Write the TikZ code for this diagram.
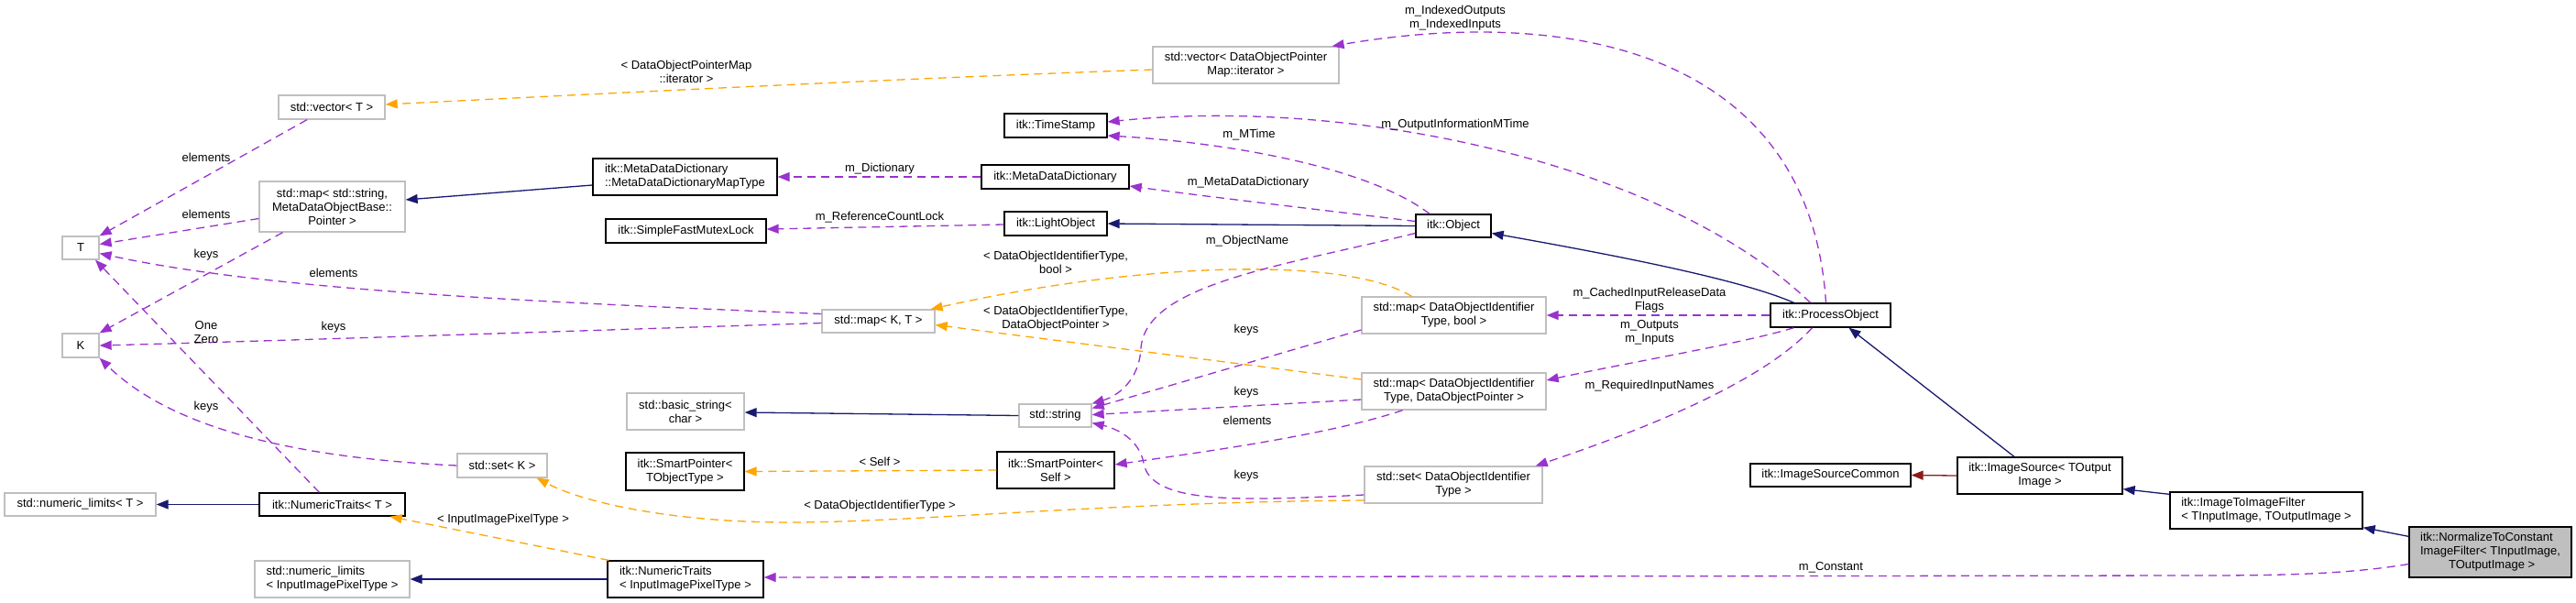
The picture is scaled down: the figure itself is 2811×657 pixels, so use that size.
\documentclass[tikz,border=0pt]{standalone}
\usepackage{fontspec}
\setmainfont{Liberation Sans}
\usetikzlibrary{arrows.meta}
\definecolor{navy}{HTML}{191970}
\definecolor{purp}{HTML}{9A32CD}
\definecolor{orng}{HTML}{FFA500}
\definecolor{fred}{HTML}{8B1A1A}
\definecolor{lgray}{HTML}{BFBFBF}
\newcommand\dgfont{\fontsize{13}{15}\selectfont}
\begin{document}
\begin{tikzpicture}[x=1pt,y=-1pt,
 clsbox/.style={draw=black,line width=1.3pt,fill=white,inner sep=0pt,font=\dgfont,align=center},
 extbox/.style={clsbox,draw=lgray},
 tgtbox/.style={clsbox,fill=lgray},
 lbl/.style={font=\dgfont,inner sep=0pt,align=center},
 arrowhd/.style={-{Triangle[length=13pt,width=10pt]}},
 inhedge/.style={draw=navy,line width=1.3pt,arrowhd},
 inhredge/.style={draw=fred,line width=1.3pt,arrowhd},
 usedge/.style={draw=purp,line width=1.3pt,dash pattern=on 9pt off 6pt,arrowhd},
 tpledge/.style={draw=orng,line width=1.3pt,dash pattern=on 9pt off 6pt,arrowhd},
]
\useasboundingbox (0,0) rectangle (2811,657);
% nodes
\node[extbox,minimum width=40pt,minimum height=25pt] (T) at (88,270.5) {T};
\node[extbox,minimum width=40pt,minimum height=26pt] (K) at (88,377) {K};
\node[extbox,minimum width=116pt,minimum height=26pt] (vecT) at (362,117) {std::vector< T >};
\node[extbox,minimum width=159pt,minimum height=55pt] (mapStr) at (362.5,225.5) {std::map< std::string,\\ MetaDataObjectBase::\\Pointer >};
\node[extbox,minimum width=165pt,minimum height=25pt] (limT) at (87.5,550.5) {std::numeric\_limits< T >};
\node[clsbox,minimum width=159pt,minimum height=25pt] (NTT) at (362.5,550.5) {itk::NumericTraits< T >};
\node[extbox,minimum width=98pt,minimum height=26pt] (setK) at (548,508) {std::set< K >};
\node[extbox,minimum width=169pt,minimum height=40pt,align=left] (limIPT) at (362.5,632) {std::numeric\_limits\\< InputImagePixelType >};
\node[clsbox,minimum width=170pt,minimum height=40pt,align=left] (NTIPT) at (748,632) {itk::NumericTraits\\< InputImagePixelType >};
\node[clsbox,minimum width=201pt,minimum height=40pt,align=left] (MDDMT) at (747.5,193) {itk::MetaDataDictionary\\::MetaDataDictionaryMapType};
\node[clsbox,minimum width=175pt,minimum height=26pt] (SFML) at (748.5,252) {itk::SimpleFastMutexLock};
\node[extbox,minimum width=128pt,minimum height=40pt] (bstr) at (748,449) {std::basic\_string<\\char >};
\node[clsbox,minimum width=129pt,minimum height=41pt] (SPTO) at (747.5,514.5) {itk::SmartPointer<\\TObjectType >};
\node[extbox,minimum width=203pt,minimum height=40pt] (vecDOPM) at (1359.5,71) {std::vector< DataObjectPointer\\Map::iterator >};
\node[clsbox,minimum width=112pt,minimum height=26pt] (TS) at (1152,137) {itk::TimeStamp};
\node[clsbox,minimum width=161pt,minimum height=26pt] (MDD) at (1151.5,193) {itk::MetaDataDictionary};
\node[clsbox,minimum width=112pt,minimum height=26pt] (LO) at (1152,244) {itk::LightObject};
\node[extbox,minimum width=123pt,minimum height=25pt] (mapKT) at (958.5,350.5) {std::map< K, T >};
\node[extbox,minimum width=79pt,minimum height=25pt] (str) at (1151.5,453.5) {std::string};
\node[clsbox,minimum width=128pt,minimum height=40pt] (SPS) at (1152,513) {itk::SmartPointer<\\Self >};
\node[clsbox,minimum width=82pt,minimum height=25pt] (Obj) at (1586,246.5) {itk::Object};
\node[extbox,minimum width=201pt,minimum height=40pt] (mapB) at (1586.5,344) {std::map< DataObjectIdentifier\\Type, bool >};
\node[extbox,minimum width=201pt,minimum height=40pt] (mapP) at (1586.5,427) {std::map< DataObjectIdentifier\\Type, DataObjectPointer >};
\node[extbox,minimum width=194pt,minimum height=40pt] (setD) at (1586,529) {std::set< DataObjectIdentifier\\Type >};
\node[clsbox,minimum width=131pt,minimum height=26pt] (PO) at (1997.5,344) {itk::ProcessObject};
\node[clsbox,minimum width=175pt,minimum height=25pt] (ISC) at (1997.5,518.5) {itk::ImageSourceCommon};
\node[clsbox,minimum width=180pt,minimum height=40pt] (IS) at (2226,519) {itk::ImageSource< TOutput\\Image >};
\node[clsbox,minimum width=210pt,minimum height=40pt,align=left] (I2I) at (2473,557) {itk::ImageToImageFilter\\< TInputImage, TOutputImage >};
\node[tgtbox,minimum width=177pt,minimum height=55pt,align=left] (NTC) at (2717.5,602.5) {itk::NormalizeToConstant\\ImageFilter< TInputImage,\\\hspace*{31pt}TOutputImage >};
% inheritance
\draw[inhedge] ([yshift=-9pt]MDDMT.west) -- ([yshift=7.5pt]mapStr.east);
\draw[inhedge] (Obj.west) -- (LO.east);
\draw[inhedge] ([xshift=-40pt]PO.north) .. controls (1900,305) and (1760,278) .. ([yshift=-8pt]Obj.east);
\draw[inhedge] (str.west) -- ([yshift=-1pt]bstr.east);
\draw[inhedge] (NTT.west) -- (limT.east);
\draw[inhedge] (NTIPT.west) -- (limIPT.east);
\draw[inhedge] ([xshift=-28pt]IS.north) -- ([xshift=20pt]PO.south);
\draw[inhedge] ([yshift=-3pt]I2I.north west) -- ([yshift=6pt]IS.south east);
\draw[inhedge] ([yshift=-11pt]NTC.north west) -- ([yshift=2pt]I2I.south east);
\draw[inhredge] (IS.west) -- (ISC.east);
% template instantiation
\draw[tpledge] ([yshift=-5pt]vecDOPM.west) .. controls (1000,85) and (700,100) .. ([yshift=3pt]vecT.east);
\draw[tpledge] ([xshift=-46pt]mapB.north) .. controls (1470,280) and (1250,285) .. ([xshift=-5pt]mapKT.north east);
\draw[tpledge] ([yshift=13pt]mapP.west) -- ([yshift=-4pt]mapKT.east);
\draw[tpledge] (SPS.west) -- (SPTO.east);
\draw[tpledge] ([yshift=-17pt]setD.west) .. controls (1200,548) and (1000,570) .. (860,570) .. controls (740,570) and (640,550) .. ([xshift=-12pt]setK.south east);
\draw[tpledge] ([xshift=2pt]NTIPT.north west) -- ([xshift=-17pt]NTT.south east);
% usage
\draw[usedge] ([xshift=-27pt]vecT.south) -- (T.north east);
\draw[usedge] ([yshift=-13pt]mapStr.west) -- ([yshift=4pt]T.east);
\draw[usedge] ([xshift=-54pt]mapStr.south) -- (K.north east);
\draw[usedge] ([yshift=8pt]mapKT.west) .. controls (600,330) and (300,318) .. ([yshift=-6pt]T.east);
\draw[usedge] ([yshift=-2pt]mapKT.west) .. controls (600,362) and (300,372) .. (K.east);
\draw[usedge] ([xshift=-14pt]NTT.north) -- ([xshift=16pt]T.south);
\draw[usedge] (setK.west) .. controls (330,500) and (190,470) .. (K.south east);
\draw[usedge] ([xshift=-5pt]PO.north) .. controls (1975,60) and (1720,5) .. ([xshift=-8pt]vecDOPM.north east);
\draw[usedge] ([xshift=-22pt]PO.north) .. controls (1820,180) and (1480,105) .. ([yshift=4pt]TS.east);
\draw[usedge] ([xshift=-26pt]Obj.north) .. controls (1490,180) and (1330,155) .. ([yshift=-11pt]TS.east);
\draw[usedge] (MDD.west) -- (MDDMT.east);
\draw[usedge] ([yshift=5pt]Obj.west) .. controls (1450,230) and (1320,215) .. ([yshift=-10pt]MDD.east);
\draw[usedge] ([yshift=-1pt]LO.west) -- ([yshift=2pt]SFML.east);
\draw[usedge] ([yshift=-8pt]Obj.west) .. controls (1400,290) and (1250,310) .. (1245,380) .. controls (1243,415) and (1220,432) .. (str.north east);
\draw[usedge] ([yshift=-16pt]mapB.west) -- ([yshift=8pt]str.east);
\draw[usedge] ([yshift=-9pt]mapP.west) -- ([yshift=1pt]str.east);
\draw[usedge] ([xshift=-56pt]mapP.south) .. controls (1450,475) and (1300,495) .. ([yshift=6pt]SPS.east);
\draw[usedge] ([yshift=-11pt]setD.west) .. controls (1350,547) and (1255,550) .. (1248,505) .. controls (1243,480) and (1220,468) .. ([yshift=-8pt]str.east);
\draw[usedge] (PO.west) -- (mapB.east);
\draw[usedge] ([xshift=-40pt]PO.south) .. controls (1900,375) and (1780,395) .. ([yshift=12pt]mapP.east);
\draw[usedge] ([xshift=-20pt]PO.south) .. controls (1930,410) and (1820,460) .. ([xshift=-8pt]setD.north east);
\draw[usedge] ([yshift=-13pt]NTC.west) .. controls (2560,627) and (2480,628) .. (2400,628) -- ([yshift=2pt]NTIPT.east);
% labels
\node[lbl] (l1) at (749,78) {< DataObjectPointerMap\\::iterator >};
\node[lbl] (l2) at (1152,286) {< DataObjectIdentifierType,\\bool >};
\node[lbl] (l3) at (1152,348) {< DataObjectIdentifierType,\\DataObjectPointer >};
\node[lbl] (l4) at (960,504) {< Self >};
\node[lbl] (l5) at (960,552) {< DataObjectIdentifierType >};
\node[lbl] (l6) at (549,567) {< InputImagePixelType >};
\node[lbl] (l7) at (225,172) {elements};
\node[lbl] (l8) at (225,234) {elements};
\node[lbl] (l9) at (225,278) {keys};
\node[lbl] (l10) at (364,298) {elements};
\node[lbl] (l11) at (364,357) {keys};
\node[lbl] (l12) at (225,363) {One\\Zero};
\node[lbl] (l13) at (225,444) {keys};
\node[lbl] (l14) at (1588,19.5) {m\_IndexedOutputs\\m\_IndexedInputs};
\node[lbl] (l15) at (1588,136) {m\_OutputInformationMTime};
\node[lbl] (l16) at (1363,147) {m\_MTime};
\node[lbl] (l17) at (960,184) {m\_Dictionary};
\node[lbl] (l18) at (1362,199) {m\_MetaDataDictionary};
\node[lbl] (l19) at (960,237) {m\_ReferenceCountLock};
\node[lbl] (l20) at (1361,263) {m\_ObjectName};
\node[lbl] (l21) at (1360,360) {keys};
\node[lbl] (l22) at (1360,428) {keys};
\node[lbl] (l23) at (1361,459) {elements};
\node[lbl] (l24) at (1360,519) {keys};
\node[lbl] (l25) at (1800,328) {m\_CachedInputReleaseData\\Flags};
\node[lbl] (l26) at (1800,363) {m\_Outputs\\m\_Inputs};
\node[lbl] (l27) at (1800,421) {m\_RequiredInputNames};
\node[lbl] (l28) at (1998,619) {m\_Constant};
\end{tikzpicture}
\end{document}
